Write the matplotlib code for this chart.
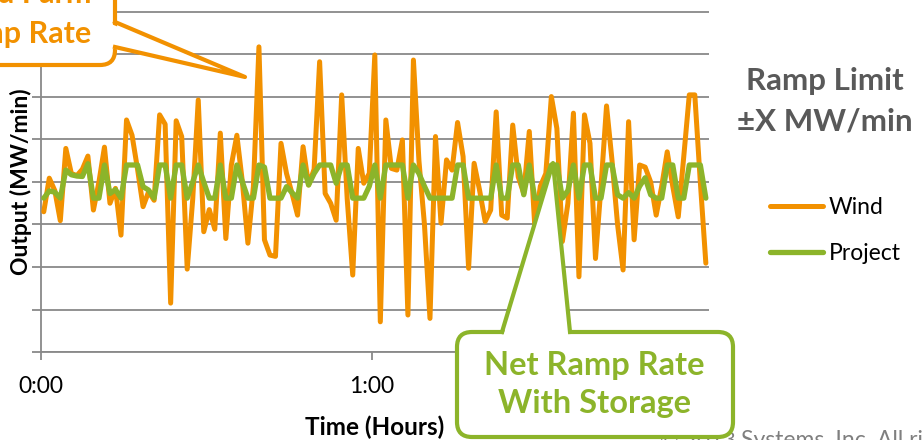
import numpy as np
import matplotlib.pyplot as plt
from matplotlib.patches import FancyBboxPatch, Polygon
from matplotlib.lines import Line2D
from matplotlib.transforms import IdentityTransform

W, H = 922, 440

# one value per minute, plotted between the minute ticks
minutes = np.arange(121) + 0.5
wind = [3.30, 4.09, 3.80, 3.09, 4.79, 4.20, 4.15, 4.30, 4.61, 3.34,
        4.00, 4.82, 3.50, 3.85, 2.75, 5.46, 5.10, 4.30, 3.42, 3.77,
        3.57, 5.58, 5.36, 1.15, 5.44, 5.07, 1.95, 3.60, 5.93, 2.83,
        3.35, 2.89, 5.15, 2.67, 4.40, 5.10, 4.00, 2.56, 3.90, 7.18,
        2.64, 2.28, 2.25, 4.91, 4.20, 3.73, 3.22, 4.83, 3.93, 4.30,
        6.83, 3.73, 3.50, 3.10, 6.05, 3.60, 1.81, 4.79, 3.97, 4.20,
        6.99, 0.71, 5.46, 4.32, 4.28, 4.99, 0.87, 6.87, 4.50, 3.00,
        0.79, 5.07, 3.03, 4.52, 4.28, 5.40, 4.60, 1.97, 4.44, 3.80,
        3.07, 3.34, 5.65, 3.22, 3.15, 5.34, 4.12, 3.73, 5.19, 2.95,
        3.90, 4.20, 6.01, 5.26, 2.60, 3.50, 5.62, 1.77, 5.58, 4.91,
        2.20, 3.90, 5.79, 4.50, 3.00, 1.93, 5.42, 2.64, 4.40, 4.35,
        4.00, 3.22, 3.90, 4.71, 3.90, 3.18, 4.60, 6.05, 6.05, 4.00,
        2.09]
project = [3.62, 3.79, 3.76, 3.62, 4.28, 4.17, 4.14, 4.13, 4.43, 3.62,
           3.62, 4.40, 3.73, 3.82, 3.62, 4.40, 4.40, 4.40, 3.89, 3.81,
           3.62, 4.40, 4.40, 3.62, 4.40, 4.40, 3.62, 4.00, 4.40, 4.00,
           3.62, 3.62, 4.40, 3.62, 3.62, 4.40, 4.00, 3.62, 3.62, 4.40,
           4.35, 3.62, 3.62, 3.62, 3.89, 3.75, 3.62, 4.40, 3.93, 4.20,
           4.40, 4.40, 4.40, 3.97, 4.40, 4.40, 3.62, 3.62, 3.62, 3.90,
           4.40, 3.62, 4.40, 4.40, 4.40, 4.40, 3.62, 4.40, 4.20, 3.90,
           3.62, 3.62, 3.62, 3.62, 3.62, 4.40, 4.40, 3.62, 3.62, 3.62,
           3.62, 3.62, 4.40, 3.62, 3.62, 4.40, 4.40, 3.70, 4.40, 3.62,
           3.62, 4.00, 4.40, 4.40, 3.62, 3.80, 4.40, 3.62, 4.40, 4.40,
           3.62, 3.62, 4.40, 4.40, 3.70, 3.62, 3.75, 3.62, 3.90, 4.10,
           3.70, 3.62, 3.62, 4.40, 4.40, 3.62, 3.62, 4.40, 4.40, 4.40,
           3.62]
tick_minutes = [0, 60, 120]
tick_labels = ["0:00", "1:00", "2:00"]

ORANGE = "#F29100"
GREEN = "#8CB42A"
GRID = "#898989"
DARK = "#595959"

plt.rcParams['font.family'] = ['Lato', 'DejaVu Sans']

fig = plt.figure(figsize=(W / 100, H / 100), dpi=100)
ax = fig.add_axes([41 / W, 88 / H, 667.6 / W, 382.5 / H])

l_wind, = ax.plot(minutes, wind, color=ORANGE, lw=3.6, solid_joinstyle='round',
                  solid_capstyle='round', zorder=3)
l_proj, = ax.plot(minutes, project, color=GREEN, lw=3.8, solid_joinstyle='round',
                  solid_capstyle='round', zorder=4)

ax.set_xlim(0, 121)
ax.set_ylim(0, 9)
ax.set_yticks(range(10))
ax.set_yticklabels([])
ax.set_xticks(tick_minutes)
ax.set_xticklabels(tick_labels, fontsize=16.5)
ax.grid(axis='y', color=GRID, lw=1.3)
ax.set_axisbelow(True)
for s in ['top', 'right']:
    ax.spines[s].set_visible(False)
for s in ['left', 'bottom']:
    ax.spines[s].set_color(GRID)
    ax.spines[s].set_linewidth(1.3)
ax.tick_params(axis='y', length=6.5, width=1.3, color=GRID)
ax.tick_params(axis='x', length=6, width=1.3, color=GRID, pad=11, labelcolor='black')

ax.set_xlabel("Time (Hours)", fontsize=17.5, fontweight='bold')
ax.xaxis.label.set_va('baseline')
ax.xaxis.set_label_coords(0.5, (352 - 435) / 382.5)
ax.set_ylabel("Output (MW/min)", fontsize=16.5, fontweight='bold')
ax.yaxis.set_label_coords((32 - 41) / 667.6, (352 - 182) / 382.5)


def fx(x):
    return x / W


def fy(y):
    return 1 - y / H


# legend
fig.text(fx(825), fy(90), "Ramp Limit", fontsize=22.5, fontweight='bold',
         color=DARK, ha='center', va='baseline')
fig.text(fx(825), fy(130), "\u00b1X MW/min", fontsize=22.5, fontweight='bold',
         color=DARK, ha='center', va='baseline')
fig.legend([l_wind, l_proj], ["Wind", "Project"], loc='upper left',
           bbox_to_anchor=(fx(770), fy(197)), frameon=False, fontsize=16.5,
           handlelength=2.3, handletextpad=0.25, labelspacing=1.1,
           borderpad=0, borderaxespad=0)


def callout(box, base, tip, color):
    x0, y0, x1, y1 = box
    rect = FancyBboxPatch((x0, H - y1), x1 - x0, y1 - y0,
                          boxstyle="round,pad=0,rounding_size=15",
                          transform=IdentityTransform(), facecolor='white',
                          edgecolor=color, lw=3, zorder=10)
    fig.add_artist(rect)
    (bx0, by0), (bx1, by1), inner = base
    fill = Polygon([(inner[0][0], H - inner[0][1]), (tip[0], H - tip[1]),
                    (inner[1][0], H - inner[1][1])],
                   closed=True, transform=IdentityTransform(),
                   facecolor='white', edgecolor='none', zorder=11)
    fig.add_artist(fill)
    edge = Line2D([bx0, tip[0], bx1], [H - by0, H - tip[1], H - by1],
                  transform=IdentityTransform(), color=color, lw=3,
                  solid_joinstyle='round', zorder=12)
    fig.add_artist(edge)


# "Wind Farm Ramp Rate" callout (cropped at top-left)
callout((-160, -90, 115, 65), ((115, 22), (115, 47), [(106, 22), (106, 47)]),
        (245, 77), ORANGE)
fig.text(fx(91), fy(3), "Wind Farm", fontsize=22, fontweight='bold',
         color=ORANGE, ha='right', va='baseline', zorder=13)
fig.text(fx(91), fy(43), "Ramp Rate", fontsize=22, fontweight='bold',
         color=ORANGE, ha='right', va='baseline', zorder=13)

# "Net Ramp Rate With Storage" callout
callout((457, 332, 733, 437), ((502, 332), (570, 332), [(502, 340), (570, 340)]),
        (553, 163), GREEN)
fig.text(fx(594), fy(375), "Net Ramp Rate", fontsize=23.5, fontweight='bold',
         color=GREEN, ha='center', va='baseline', zorder=13)
fig.text(fx(594), fy(413), "With Storage", fontsize=23.5, fontweight='bold',
         color=GREEN, ha='center', va='baseline', zorder=13)

# copyright line, mostly cropped by the figure edge and the callout
fig.text(fx(736), fy(447), "\u00a9 2013", fontsize=16, color='#7F7F7F',
         ha='right', va='baseline', zorder=5)
fig.text(fx(741), fy(447), "Systems, Inc. All rights reserved.", fontsize=16.5,
         color='#7F7F7F', ha='left', va='baseline', zorder=5)

fig.savefig("out.png", dpi=100)
